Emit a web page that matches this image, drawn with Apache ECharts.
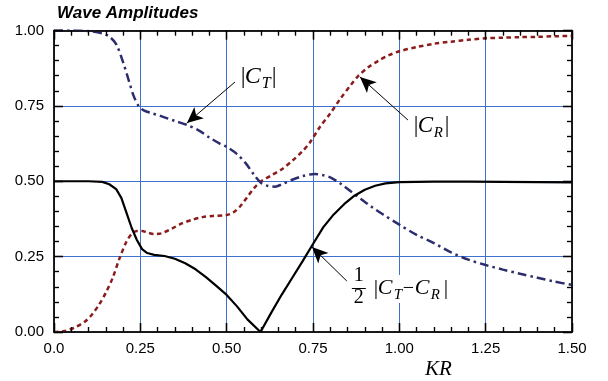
<!DOCTYPE html>
<html>
<head>
<meta charset="utf-8">
<script src="https://cdn.jsdelivr.net/npm/echarts@6/dist/echarts.min.js"></script>
<style>
  html, body { margin: 0; background: #fff; }
  #wrap { position: relative; width: 608px; height: 381px; }
  #chart, #overlay { position: absolute; left: 0; top: 0; width: 608px; height: 381px; }
  #overlay { pointer-events: none; }
</style>
</head>
<body>
<div id="wrap"><div id="chart"></div><div id="overlay"></div></div>
<script>
// tick labels
const xTickLabels = ["0.0", "0.25", "0.50", "0.75", "1.00", "1.25", "1.50"];
const yTickLabels = ["0.00", "0.25", "0.50", "0.75", "1.00"];

// |C_T| (transmission), [KR, value]
const ctPoints = [
  [0, 1.0], [0.05, 1.0], [0.1, 0.998], [0.14, 0.99], [0.16, 0.98], [0.18, 0.955],
  [0.2, 0.895], [0.215, 0.84], [0.23, 0.785], [0.245, 0.75], [0.26, 0.735], [0.28, 0.727],
  [0.31, 0.716], [0.35, 0.7], [0.385, 0.687], [0.42, 0.668], [0.45, 0.645], [0.48, 0.625],
  [0.5, 0.614], [0.53, 0.59], [0.555, 0.56], [0.58, 0.52], [0.6, 0.494], [0.62, 0.484],
  [0.64, 0.482], [0.66, 0.49], [0.69, 0.505], [0.72, 0.517], [0.755, 0.524], [0.78, 0.52],
  [0.8, 0.513], [0.83, 0.492], [0.86, 0.466], [0.89, 0.44], [0.92, 0.415], [0.95, 0.392],
  [1.0, 0.356], [1.05, 0.322], [1.1, 0.295], [1.15, 0.264], [1.2, 0.24], [1.25, 0.222],
  [1.3, 0.207], [1.35, 0.193], [1.4, 0.18], [1.45, 0.167], [1.5, 0.156]
];

// |C_R| (reflection)
const crPoints = [
  [0, 0], [0.03, 0.003], [0.06, 0.015], [0.09, 0.035], [0.11, 0.058], [0.13, 0.09],
  [0.15, 0.13], [0.17, 0.18], [0.19, 0.245], [0.21, 0.3], [0.225, 0.325], [0.24, 0.335],
  [0.255, 0.335], [0.27, 0.33], [0.29, 0.325], [0.31, 0.327], [0.34, 0.342], [0.37, 0.36],
  [0.4, 0.372], [0.43, 0.381], [0.46, 0.385], [0.5, 0.388], [0.52, 0.397], [0.54, 0.418],
  [0.56, 0.448], [0.58, 0.478], [0.6, 0.5], [0.63, 0.52], [0.66, 0.54], [0.69, 0.568],
  [0.72, 0.6], [0.74, 0.627], [0.77, 0.68], [0.8, 0.725], [0.83, 0.775], [0.86, 0.82],
  [0.88, 0.848], [0.91, 0.878], [0.94, 0.9], [0.97, 0.918], [1.0, 0.931], [1.05, 0.945],
  [1.1, 0.956], [1.15, 0.963], [1.2, 0.969], [1.25, 0.974], [1.3, 0.976], [1.35, 0.978],
  [1.4, 0.979], [1.45, 0.981], [1.5, 0.982]
];

// 1/2 |C_T - C_R|
const diffPoints = [
  [0, 0.5], [0.1, 0.5], [0.14, 0.498], [0.16, 0.49], [0.18, 0.474], [0.195, 0.445],
  [0.21, 0.395], [0.225, 0.345], [0.24, 0.305], [0.255, 0.275], [0.27, 0.262], [0.29, 0.256],
  [0.32, 0.252], [0.35, 0.243], [0.38, 0.228], [0.41, 0.208], [0.44, 0.182], [0.47, 0.153],
  [0.5, 0.123], [0.53, 0.085], [0.56, 0.042], [0.598, 0], [0.63, 0.066], [0.66, 0.125],
  [0.69, 0.18], [0.72, 0.235], [0.75, 0.292], [0.78, 0.348], [0.81, 0.39], [0.84, 0.424],
  [0.87, 0.452], [0.9, 0.472], [0.93, 0.485], [0.96, 0.493], [1.0, 0.497], [1.1, 0.499],
  [1.2, 0.499], [1.3, 0.498], [1.4, 0.497], [1.5, 0.496]
];

// annotation arrows: [from, to] in data coords
const ctArrow = [[0.524, 0.829], [0.385, 0.693]];
const crArrow = [[1.025, 0.703], [0.886, 0.846]];
const diffArrow = [[0.848, 0.169], [0.747, 0.282]];

const serif = '"Liberation Serif", "DejaVu Serif", serif';
const sans = '"Liberation Sans", Arial, sans-serif';
const gridBlue = "#3f72cf";

const grid = { left: 54, right: 36, top: 30.5, bottom: 49 };
const plotW = 608 - grid.left - grid.right;
const plotH = 381 - grid.top - grid.bottom;
// place annotation text by data coords (same mapping as the grid)
const at = (x, y) => [grid.left + (x / 1.5) * plotW, grid.top + (1 - y) * plotH];

// fresh axis config each time so axes don't share nested objects
function makeAxis(max, position, labels, grid_lines) {
  return {
    type: "value",
    min: 0,
    max: max,
    interval: 0.25,
    position: position,
    axisLine: { show: true, onZero: false, lineStyle: { color: "#111", width: 1.5 } },
    axisTick: { show: true, inside: true, length: 9, lineStyle: { color: "#000", width: 1.3 } },
    minorTick: { show: true, splitNumber: 5, length: 5, lineStyle: { color: "#000", width: 1.2 } },
    splitLine: { show: !!grid_lines, lineStyle: { color: gridBlue, width: 1 } },
    axisLabel: labels ? {
      show: true, color: "#000", fontFamily: sans, fontSize: 15,
      margin: position === "bottom" ? 9 : 10,
      formatter: (v) => labels[Math.round(v / 0.25)]
    } : { show: false }
  };
}

// math-style labels built from pieces; baseline-based placement
function piece(str, dx, dy, size, italic) {
  return {
    type: "text", x: dx, y: dy - 0.3375 * size,
    style: {
      text: str, fill: "#000", align: "left", verticalAlign: "middle",
      font: (italic ? "italic " : "") + size + "px " + serif
    }
  };
}

const arrowLine = (pair) => [{ coord: pair[0] }, { coord: pair[1] }];

// main chart: grid lines, tick labels, curves, arrows
const chart = echarts.init(document.getElementById("chart"));
chart.setOption({
  animation: false,
  backgroundColor: "#fff",
  grid: grid,
  xAxis: [makeAxis(1.5, "bottom", xTickLabels, true), makeAxis(1.5, "top", null, false)],
  yAxis: [makeAxis(1, "left", yTickLabels, true), makeAxis(1, "right", null, false)],
  series: [
    {
      name: "CR", type: "line", data: crPoints, showSymbol: false, smooth: 0.3,
      lineStyle: { color: "#8b1c1c", width: 2.5, type: [4.5, 3.5] }
    },
    {
      name: "CT", type: "line", data: ctPoints, showSymbol: false, smooth: 0.3,
      lineStyle: { color: "#2d2d6e", width: 2.5, type: [9, 4, 2.5, 4] }
    },
    {
      name: "diff", type: "line", data: diffPoints, showSymbol: false, smooth: false,
      lineStyle: { color: "#000", width: 2.2 },
      markLine: {
        silent: true,
        symbol: ["none", "arrow"],
        symbolSize: [11, 16],
        label: { show: false },
        lineStyle: { color: "#000", width: 1, type: "solid" },
        data: [arrowLine(ctArrow), arrowLine(crArrow), arrowLine(diffArrow)]
      }
    }
  ]
});

// transparent overlay: axis frame with inward ticks, title and math labels
const ctPos = at(0.541, 0.819);
const crPos = at(1.042, 0.657);
const dfPos = at(0.8625, 0.146);
const krPos = at(1.115, 0);

const overlay = echarts.init(document.getElementById("overlay"));
overlay.setOption({
  animation: false,
  backgroundColor: "transparent",
  grid: grid,
  xAxis: [makeAxis(1.5, "bottom", null, false), makeAxis(1.5, "top", null, false)],
  yAxis: [makeAxis(1, "left", null, false), makeAxis(1, "right", null, false)],
  series: [{ type: "line", data: [], showSymbol: false }],
  graphic: [
    {
      type: "text", x: 57, y: 13.6,
      style: { text: "Wave Amplitudes", fill: "#000", verticalAlign: "middle",
               font: "italic bold 17px " + sans }
    },
    {
      type: "group", x: ctPos[0], y: ctPos[1],
      children: [
        piece("|", 0, 0, 24, false), piece("C", 4, 0, 24, true),
        piece("T", 21, 4, 16, true), piece("|", 31, 0, 24, false)
      ]
    },
    {
      type: "group", x: crPos[0], y: crPos[1],
      children: [
        piece("|", 0, 0, 23, false), piece("C", 4, 0, 23, true),
        piece("R", 20, 4, 15, true), piece("|", 31, 0, 23, false)
      ]
    },
    {
      type: "group", x: dfPos[0], y: dfPos[1],
      children: [
        { type: "rect", shape: { x: 20, y: -13, width: 80, height: 28 }, style: { fill: "#fff" } },
        piece("1", 2, -5, 20, false),
        { type: "rect", shape: { x: 0, y: 0, width: 14, height: 1 }, style: { fill: "#000" } },
        piece("2", 2, 17, 20, false),
        piece("|", 22, 8, 22, false), piece("C", 26, 8, 22, true),
        piece("T", 42, 12, 15, true), piece("\u2212", 51, 8, 20, false),
        piece("C", 63, 8, 22, true), piece("R", 79, 12, 15, true),
        piece("|", 92, 8, 22, false)
      ]
    },
    {
      type: "group", x: krPos[0], y: krPos[1],
      children: [piece("KR", -14, 45, 21, true)]
    }
  ]
});
</script>
</body>
</html>
